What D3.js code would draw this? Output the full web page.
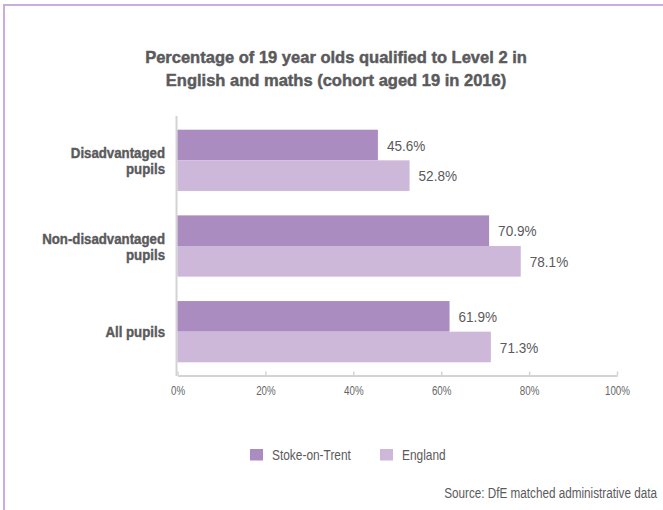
<!DOCTYPE html>
<html>
<head>
<meta charset="utf-8">
<script src="https://cdn.jsdelivr.net/npm/d3@7"></script>
<style>
  html, body { margin: 0; padding: 0; background: #fff; }
  svg { display: block; }
  text { font-family: "Liberation Sans", Arial, sans-serif; }
</style>
</head>
<body>
<svg id="chart" width="663" height="510"></svg>
<script>
// Categories (each label broken into lines) and series values, in percent
const categories = ["Disadvantaged pupils", "Non-disadvantaged pupils", "All pupils"];
const categoryLines = [["Disadvantaged", "pupils"], ["Non-disadvantaged", "pupils"], ["All pupils"]];
const seriesNames = ["Stoke-on-Trent", "England"];
const stokeValues = [45.6, 70.9, 61.9];
const englandValues = [52.8, 78.1, 71.3];
const tickValues = [0, 20, 40, 60, 80, 100];
const titleLines = ["Percentage of 19 year olds qualified to Level 2 in",
                    "English and maths (cohort aged 19 in 2016)"];
const sourceText = "Source: DfE matched administrative data";

const colors = ["#ab8cc1", "#cdb8da"];
const textColor = "#5a5a5c";

const svg = d3.select("#chart");

// Condensed look: measure a sample string in the regular face and derive
// a horizontal squeeze factor that brings it to the wanted width.
function squeezeFor(sample, size, weight, width) {
  const t = svg.append("text").attr("font-size", size).attr("font-weight", weight).text(sample);
  const w = t.node().getComputedTextLength();
  t.remove();
  return width / w;
}

function label(parent, x, y, str, o) {
  const t = parent.append("text")
    .attr("transform", `translate(${x},${y}) scale(${o.k},1)`)
    .attr("text-anchor", o.anchor || "start")
    .attr("font-size", o.size)
    .attr("font-weight", o.weight || "normal")
    .attr("fill", o.fill || textColor)
    .text(str);
  if (o.heavy) t.attr("stroke", o.fill || textColor).attr("stroke-width", o.heavy);
  return t;
}

const kTitle = squeezeFor(titleLines[0], 16.5, "bold", 382);
const kCat = squeezeFor("Non-disadvantaged", 14.5, "bold", 123);
const kVal = squeezeFor("45.6%", 14, "normal", 38.5);
const kTick = squeezeFor("100%", 12.5, "normal", 25);
const kLegend = squeezeFor("Stoke-on-Trent", 14, "normal", 79);
const kSource = squeezeFor(sourceText, 14.5, "normal", 213);

// Frame: top and left rules
svg.append("line").attr("x1", 4).attr("x2", 663).attr("y1", 5).attr("y2", 5)
  .attr("stroke", "#c9aedd").attr("stroke-width", 2);
svg.append("line").attr("x1", 4).attr("x2", 4).attr("y1", 4).attr("y2", 510)
  .attr("stroke", "#c9aedd").attr("stroke-width", 2);

// Title
const gTitle = svg.append("g");
titleLines.forEach((t, i) => label(gTitle, 336, 62.5 + i * 23.5, t,
  { k: kTitle, size: 16.5, weight: "bold", anchor: "middle", heavy: 0.45 }));

// Scales
const x = d3.scaleLinear().domain([0, 100]).range([177.5, 617]);
const y = d3.scaleBand().domain(categories).range([116, 376])
  .paddingInner(0.285).paddingOuter(0.16);
const ySub = d3.scaleBand().domain(seriesNames).range([0, y.bandwidth()]);

// X axis
const xAxis = d3.axisBottom(x).tickValues(tickValues)
  .tickFormat(d => d + "%").tickSizeInner(-4).tickSizeOuter(0).tickPadding(11);
const gx = svg.append("g").attr("transform", "translate(0,375.5)").call(xAxis);
gx.select(".domain").attr("stroke", "#d3d3d3").attr("stroke-width", 2);
gx.selectAll(".tick line").attr("stroke", "#d3d3d3").attr("stroke-width", 1.5);
gx.selectAll(".tick text").attr("fill", "#666").attr("font-size", 12.5)
  .attr("font-family", null)
  .attr("transform", `scale(${kTick},1)`);

// Y axis line
svg.append("line").attr("x1", 176.5).attr("x2", 176.5).attr("y1", 116).attr("y2", 376)
  .attr("stroke", "#d3d3d3").attr("stroke-width", 2);

// Bars
const rows = categories.map((c, i) => ({
  cat: c,
  lines: categoryLines[i],
  vals: [stokeValues[i], englandValues[i]]
}));

const groups = svg.append("g").selectAll("g").data(rows).join("g")
  .attr("transform", d => `translate(0,${y(d.cat)})`);

groups.selectAll("rect").data(d => d.vals.map((v, j) => ({ v, s: seriesNames[j], j })))
  .join("rect")
  .attr("x", x(0))
  .attr("y", d => ySub(d.s))
  .attr("width", d => x(d.v) - x(0))
  .attr("height", ySub.bandwidth())
  .attr("fill", d => colors[d.j]);

// Value labels and category labels
groups.each(function (d) {
  const g = d3.select(this);
  d.vals.forEach((v, j) => {
    const s = seriesNames[j];
    label(g, x(v) + 9, ySub(s) + ySub.bandwidth() / 2 + 5.8, v.toFixed(1) + "%",
      { k: kVal, size: 14 });
  });
  const n = d.lines.length;
  d.lines.forEach((t, i) => {
    const yy = y.bandwidth() / 2 + 5.5 + (i - (n - 1) / 2) * 16;
    label(g, 165, yy, t, { k: kCat, size: 14.5, weight: "bold", anchor: "end", heavy: 0.4 });
  });
});

// Legend
const legendX = [250, 380];
const legend = svg.append("g").selectAll("g").data(seriesNames).join("g")
  .attr("transform", (d, i) => `translate(${legendX[i]},449)`);
legend.append("rect").attr("width", 13).attr("height", 11.5)
  .attr("fill", (d, i) => colors[i]);
legend.each(function (d) {
  label(d3.select(this), 22, 11, d, { k: kLegend, size: 14 });
});

// Source note
label(svg, 657, 498, sourceText, { k: kSource, size: 14.5, anchor: "end" });
</script>
</body>
</html>
